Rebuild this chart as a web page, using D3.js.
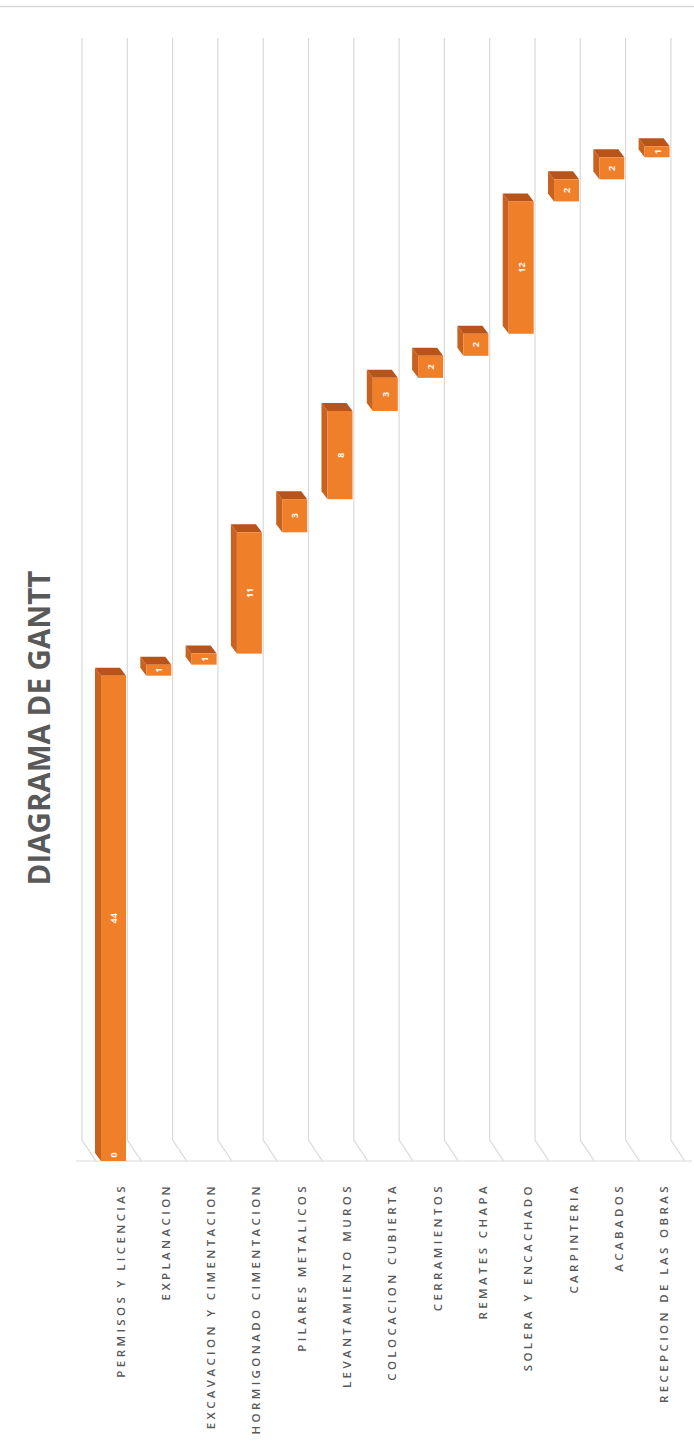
<!DOCTYPE html>
<html>
<head>
<meta charset="utf-8">
<script src="https://cdn.jsdelivr.net/npm/d3@7"></script>
<style>
  body { margin: 0; background: #fff; }
  svg { display: block; }
</style>
</head>
<body>
<div id="chart"></div>
<script>
// ── Data ────────────────────────────────────────────────────────────────────
const TASKS = [
  'PERMISOS Y LICENCIAS', 'EXPLANACION', 'EXCAVACION Y CIMENTACION',
  'HORMIGONADO CIMENTACION', 'PILARES METALICOS', 'LEVANTAMIENTO MUROS',
  'COLOCACION CUBIERTA', 'CERRAMIENTOS', 'REMATES CHAPA',
  'SOLERA Y ENCACHADO', 'CARPINTERIA', 'ACABADOS', 'RECEPCION DE LAS OBRAS',
];
const STARTS    = [0, 44, 45, 46, 57, 60, 68, 71, 73, 75, 87, 89, 91];
const DURATIONS = [44, 1, 1, 11, 3, 8, 3, 2, 2, 12, 2, 2, 1];
const VALUE_MAX = 100;
const TITLE = 'DIAGRAMA DE GANTT';

// ── Layout (chart is drawn turned on its side) ─────────────────────────────
const W = 694, H = 1448;
const FRONT = { dx: -6, dy: -8 };      // 3D depth offset of bar faces
const BEND  = { dx: 14, dy: 21 };      // floor bend of grid lines

const FACE   = '#f07f2a';
const TOP    = '#b8531a';
const SIDE   = '#c9611f';
const GRID   = '#d9d9d9';

const svg = d3.select('#chart').append('svg')
  .attr('width', W).attr('height', H);

const x = d3.scaleBand().domain(TASKS).range([82, 82 + 45.3 * TASKS.length]);
const y = d3.scaleLinear().domain([0, VALUE_MAX]).range([1161, 58]);

// chart border (top edge visible)
svg.append('line')
  .attr('x1', 0).attr('x2', W).attr('y1', 6.5).attr('y2', 6.5)
  .attr('stroke', '#d9d9d9').attr('stroke-width', 1.5);

// ── Grid lines ──────────────────────────────────────────────────────────────
const gridX = TASKS.map(t => x(t)).concat([x.range()[1]]);
const bendY = y(0) - BEND.dy;
svg.append('g').selectAll('path')
  .data(gridX)
  .join('path')
  .attr('d', gx => `M${gx},38 L${gx},${bendY} L${gx + BEND.dx},${y(0)}`)
  .attr('fill', 'none')
  .attr('stroke', GRID)
  .attr('stroke-width', 1.2);

svg.append('line')
  .attr('x1', 76).attr('x2', 692)
  .attr('y1', y(0)).attr('y2', y(0))
  .attr('stroke', GRID).attr('stroke-width', 1.2);

// ── Bars ────────────────────────────────────────────────────────────────────
const bars = TASKS.map((t, i) => ({
  task: t,
  start: STARTS[i],
  dur: DURATIONS[i],
  x1: x(t) + 19,
  x2: x(t) + 44,
  yTop: y(STARTS[i] + DURATIONS[i]),
  yBot: y(STARTS[i]),
}));

const g = svg.append('g');
const bar = g.selectAll('g.bar').data(bars).join('g').attr('class', 'bar');

// left side face
bar.append('path')
  .attr('d', d => `M${d.x1},${d.yTop} L${d.x1 + FRONT.dx},${d.yTop + FRONT.dy} ` +
                  `L${d.x1 + FRONT.dx},${d.yBot + FRONT.dy} L${d.x1},${d.yBot} Z`)
  .attr('fill', SIDE);

// top face
bar.append('path')
  .attr('d', d => `M${d.x1},${d.yTop} L${d.x2},${d.yTop} ` +
                  `L${d.x2 + FRONT.dx},${d.yTop + FRONT.dy} L${d.x1 + FRONT.dx},${d.yTop + FRONT.dy} Z`)
  .attr('fill', TOP);

// front face
bar.append('rect')
  .attr('x', d => d.x1).attr('y', d => d.yTop)
  .attr('width', d => d.x2 - d.x1)
  .attr('height', d => d.yBot - d.yTop)
  .attr('fill', FACE);

// duration labels
bar.append('text')
  .attr('transform', d => `translate(${(d.x1 + d.x2) / 2},${(d.yTop + d.yBot) / 2}) rotate(-90)`)
  .attr('text-anchor', 'middle')
  .attr('dominant-baseline', 'central')
  .attr('font-family', '"Open Sans", sans-serif')
  .attr('font-size', 9)
  .attr('font-weight', 700)
  .attr('fill', '#fff6ee')
  .text(d => d.dur);

// start label (only visible where it sits on an orange bar)
bar.filter(d => d.start === 0).append('text')
  .attr('transform', d => `translate(${(d.x1 + d.x2) / 2},${d.yBot - 6}) rotate(-90)`)
  .attr('text-anchor', 'middle')
  .attr('dominant-baseline', 'central')
  .attr('font-family', '"Open Sans", sans-serif')
  .attr('font-size', 9)
  .attr('font-weight', 700)
  .attr('fill', '#fff6ee')
  .text(d => d.start);

// ── Category labels ─────────────────────────────────────────────────────────
svg.append('g').selectAll('text')
  .data(TASKS)
  .join('text')
  .attr('transform', t => `translate(${x(t) + 38},1183) rotate(-90)`)
  .attr('text-anchor', 'end')
  .attr('dominant-baseline', 'central')
  .attr('font-family', '"Open Sans", sans-serif')
  .attr('font-size', 11.5)
  .attr('font-weight', 600)
  .attr('letter-spacing', 3.4)
  .attr('fill', '#595959')
  .text(t => t);

// ── Title ───────────────────────────────────────────────────────────────────
svg.append('text')
  .attr('transform', 'translate(38,728) rotate(-90)')
  .attr('text-anchor', 'middle')
  .attr('dominant-baseline', 'central')
  .attr('font-family', '"Open Sans", sans-serif')
  .attr('font-size', 29.5)
  .attr('font-weight', 700)
  .attr('fill', '#595959')
  .text(TITLE);
</script>
</body>
</html>
